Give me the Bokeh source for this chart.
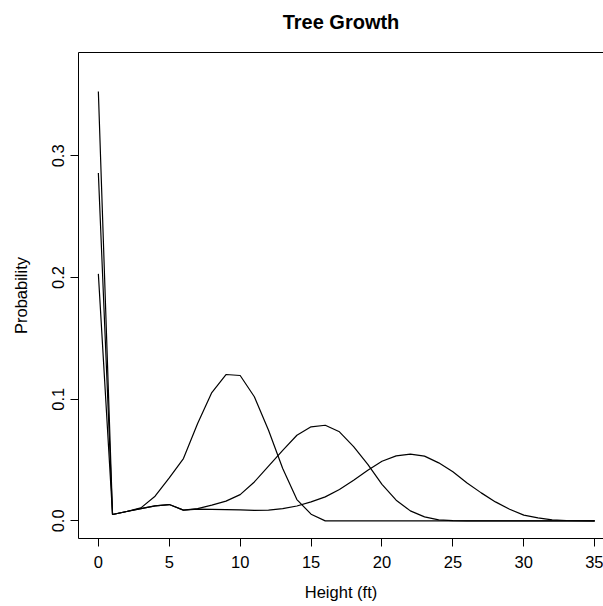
from bokeh.plotting import figure
from bokeh.models import Range1d, FixedTicker, LinearAxis
from bokeh.embed import file_html
from bokeh.resources import INLINE

# Data (height in ft vs probability)
heights = list(range(0, 36))

curve_a = [0.203, 0.0052, 0.0077, 0.0107, 0.0203, 0.0353, 0.0512, 0.0800, 0.1055, 0.1203,
           0.1195, 0.1020, 0.0745, 0.0430, 0.0175, 0.0055, 0.0, 0.0, 0.0, 0.0,
           0.0, 0.0, 0.0, 0.0, 0.0, 0.0, 0.0, 0.0, 0.0, 0.0,
           0.0, 0.0, 0.0, 0.0, 0.0, 0.0]

curve_b = [0.286, 0.0052, 0.0077, 0.0101, 0.0123, 0.0134, 0.0088, 0.0101, 0.0129, 0.0162,
           0.0216, 0.0320, 0.0450, 0.0580, 0.0704, 0.0773, 0.0786, 0.0732, 0.0610, 0.0465,
           0.0300, 0.0170, 0.0082, 0.0033, 0.0008, 0.0002, 0.0, 0.0, 0.0, 0.0,
           0.0, 0.0, 0.0, 0.0, 0.0, 0.0]

curve_c = [0.353, 0.0052, 0.0077, 0.0101, 0.0123, 0.0134, 0.0088, 0.0096, 0.0095, 0.0093,
           0.0090, 0.0086, 0.0088, 0.0100, 0.0122, 0.0156, 0.0197, 0.0258, 0.0334, 0.0416,
           0.0490, 0.0534, 0.0548, 0.0532, 0.0477, 0.0403, 0.0312, 0.0230, 0.0156, 0.0096,
           0.0047, 0.0025, 0.0008, 0.0003, 0.0001, 0.0]

x_ticks = [0, 5, 10, 15, 20, 25, 30, 35]
y_ticks = [0.0, 0.1, 0.2, 0.3]
y_tick_labels = {0.0: "0.0", 0.1: "0.1", 0.2: "0.2", 0.3: "0.3"}
title_text = "Tree Growth"

FONT = "Liberation Sans"
TICK_SIZE = "16.5px"

p = figure(width=603, height=606, output_backend="svg", toolbar_location=None,
           x_range=Range1d(-1.4, 35.62), y_range=Range1d(-0.0145, 0.385),
           min_border_left=78, min_border_right=0, min_border_top=52, min_border_bottom=68,
           background_fill_color="white", border_fill_color="white")

p.outline_line_color = None
p.grid.visible = False

for data in (curve_a, curve_b, curve_c):
    p.line(heights, data, line_color="black", line_width=1.2)

xa = p.xaxis[0]
xa.ticker = FixedTicker(ticks=x_ticks)
xa.axis_label = "Height (ft)"
ya = p.yaxis[0]
ya.ticker = FixedTicker(ticks=y_ticks)
ya.major_label_overrides = y_tick_labels
ya.axis_label = "Probability"
ya.major_label_orientation = "vertical"

for ax in (xa, ya):
    ax.axis_line_color = "black"
    ax.axis_line_width = 1
    ax.major_tick_line_color = "black"
    ax.major_tick_line_width = 1
    ax.major_tick_out = 8
    ax.major_tick_in = 0
    ax.minor_tick_line_color = None
    ax.major_label_text_font = FONT
    ax.major_label_text_font_size = TICK_SIZE
    ax.major_label_text_color = "black"
    ax.axis_label_text_font = FONT
    ax.axis_label_text_font_size = TICK_SIZE
    ax.axis_label_text_font_style = "normal"
    ax.axis_label_text_color = "black"

xa.major_label_standoff = 9
xa.axis_label_standoff = 12
ya.major_label_standoff = 6
ya.axis_label_standoff = 20

# top frame line carrying the chart title
top_axis = LinearAxis(ticker=FixedTicker(ticks=[]), axis_line_color="black",
                      axis_line_width=1, major_tick_line_color=None,
                      major_tick_out=0, major_tick_in=0, major_label_standoff=0,
                      minor_tick_line_color=None, major_label_text_font_size="0px",
                      axis_label=title_text, axis_label_text_font=FONT,
                      axis_label_text_font_size="20px", axis_label_text_font_style="bold",
                      axis_label_text_color="black", axis_label_standoff=20)
p.add_layout(top_axis, "above")

open("out.html", "w").write(file_html(p, INLINE))
